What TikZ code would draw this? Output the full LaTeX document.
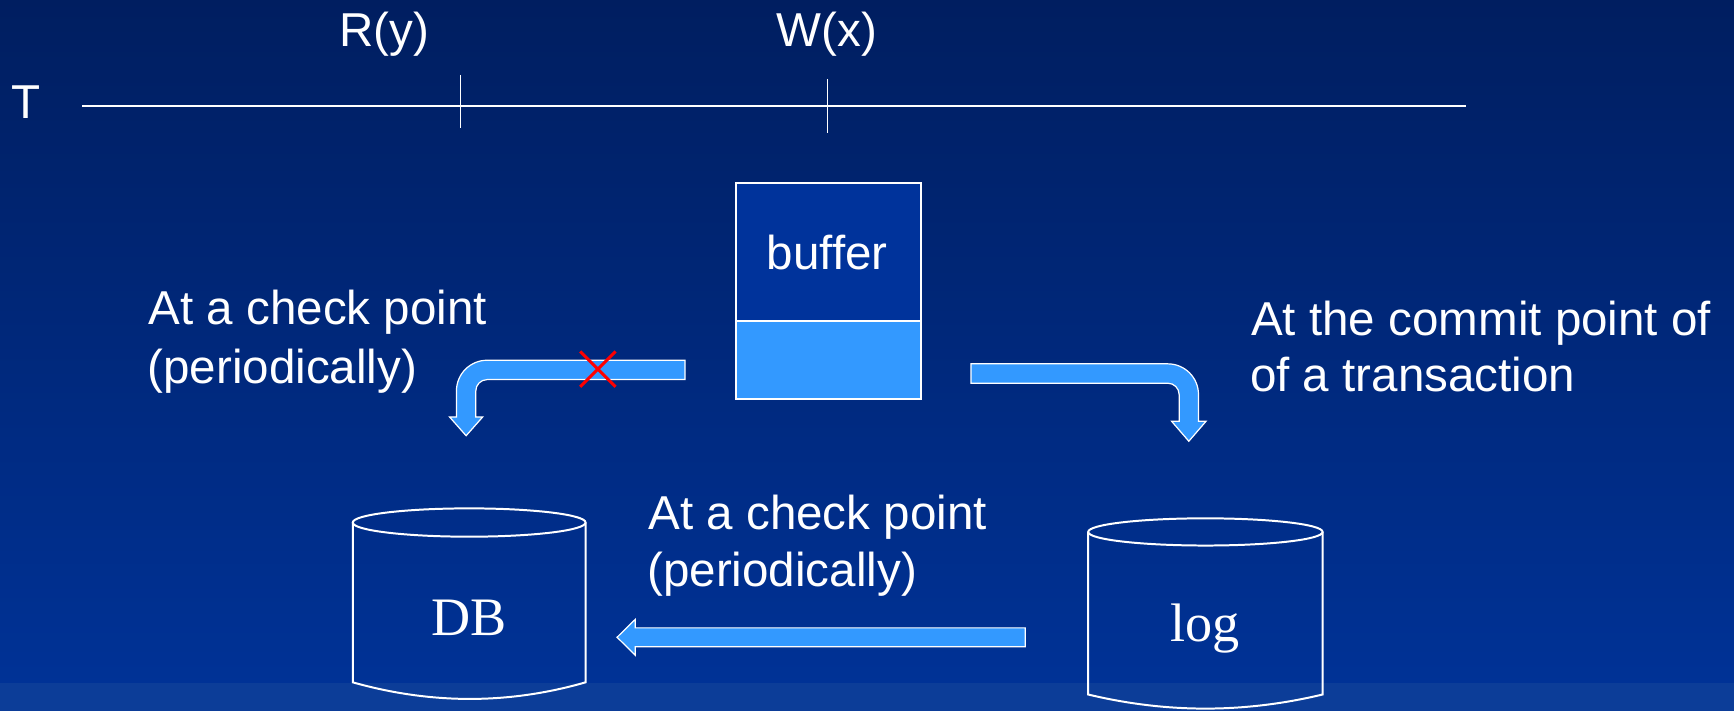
\documentclass[tikz,border=0pt]{standalone}
\usepackage{fontspec}
\setmainfont{Liberation Sans}
\newfontfamily\canfont{Liberation Serif}

\definecolor{bgtop}{HTML}{001E60}
\definecolor{bgmid}{HTML}{00297E}
\definecolor{bgbot}{HTML}{003296}
\definecolor{bgstrip}{HTML}{0C3D98}
\definecolor{buftop}{HTML}{00339B}
\definecolor{arrowblue}{HTML}{3399FF}

\tikzset{
  lbl/.style={text=white, inner sep=0pt, font=\fontsize{21.5pt}{26pt}\selectfont},
  canlbl/.style={text=white, inner sep=0pt, font=\canfont\fontsize{24.5pt}{29pt}\selectfont},
  blockarrow/.style={fill=arrowblue, draw=white, line width=0.55pt, line join=miter},
  outline/.style={draw=white, line width=0.9pt},
  axisline/.style={draw=white, line width=0.9pt},
  tickline/.style={draw=white, line width=0.6pt},
  cross/.style={draw=red, line width=1.4pt},
}

\begin{document}
\begin{tikzpicture}[x=0.5pt,y=-0.5pt]
\useasboundingbox (0,0) rectangle (1568,643);

% background
\shade[top color=bgtop, middle color=bgmid, bottom color=bgbot] (0,0) rectangle (1568,618);
\fill[bgstrip] (0,618) rectangle (1568,643);

% transaction time line
\node[lbl, anchor=base west] (T) at (10,107) {T};
\coordinate (t0) at (74.3,95.8);
\coordinate (t1) at (1326,95.8);
\draw[axisline] (t0) -- (t1);
\coordinate (ryTop) at (416.3,67.8);
\coordinate (ryBot) at (416.3,116);
\draw[tickline] (ryTop) -- (ryBot);
\coordinate (wxTop) at (748.5,71.4);
\coordinate (wxBot) at (748.5,120);
\draw[tickline] (wxTop) -- (wxBot);
\node[lbl, anchor=base] (Ry) at (347.5,41.6) {R(y)};
\node[lbl, anchor=base] (Wx) at (747.6,41.6) {W(x)};

% buffer
\draw[outline, fill=buftop] (665.3,165.8) rectangle (832.5,290);
\draw[outline, fill=arrowblue] (665.3,290) rectangle (832.5,360.5);
\node[lbl, anchor=base] (buf) at (748,243.6) {buffer};

% buffer -> DB (blocked)
\draw[blockarrow] (619.5,325.75) -- (440.5,325.75)
  .. controls (425.17,325.75) and (412.75,338.17) .. (412.75,353.5)
  -- (412.75,377) -- (406.5,377) -- (421.5,394) -- (436.5,377) -- (430.25,377)
  -- (430.25,353.5) .. controls (430.25,347.84) and (434.84,343.25) .. (440.5,343.25)
  -- (619.5,343.25) -- cycle;
\coordinate (xc) at (540.6,333.8);
\draw[cross] ([shift={(-16,-16)}]xc) -- ([shift={(16,16)}]xc);
\draw[cross] ([shift={(-16,16)}]xc) -- ([shift={(16,-16)}]xc);

% buffer -> log
\draw[blockarrow] (878,329) -- (1056,329)
  .. controls (1071.33,329) and (1083.75,341.42) .. (1083.75,356.75)
  -- (1083.75,381) -- (1090.5,381) -- (1075,399) -- (1059.5,381) -- (1066.25,381)
  -- (1066.25,356.75) .. controls (1066.25,351.09) and (1061.66,346.5) .. (1056,346.5)
  -- (878,346.5) -- cycle;

% log -> DB
\draw[blockarrow] (927,567.75) -- (574.5,567.75) -- (574.5,560) -- (558,576.25)
  -- (574.5,592.5) -- (574.5,584.75) -- (927,584.75) -- cycle;

% captions
\node[lbl, anchor=base west] (ckA1) at (134,293.3) {At a check point};
\node[lbl, anchor=base west] (ckA2) at (133,346.6) {(periodically)};
\node[lbl, anchor=base west] (cmA1) at (1131,303.8) {At the commit point of};
\node[lbl, anchor=base west] (cmA2) at (1130,354.2) {of a transaction};
\node[lbl, anchor=base west] (ckB1) at (586,478.6) {At a check point};
\node[lbl, anchor=base west] (ckB2) at (585,530.5) {(periodically)};

% DB cylinder
\draw[outline] (319,472.5) -- (319,617)
  .. controls (390,637) and (460,637) .. (529.5,617) -- (529.5,472.5);
\draw[outline] (424.25,472.5) ellipse [x radius=105.25, y radius=12.8];
\node[canlbl, anchor=base] (db) at (424,574.2) {DB};

% log cylinder
\draw[outline] (984,481) -- (984,628)
  .. controls (1055,645) and (1125,645) .. (1196,628) -- (1196,481);
\draw[outline] (1090,481) ellipse [x radius=106, y radius=12.3];
\node[canlbl, anchor=base] (log) at (1090,580) {log};
\end{tikzpicture}
\end{document}
